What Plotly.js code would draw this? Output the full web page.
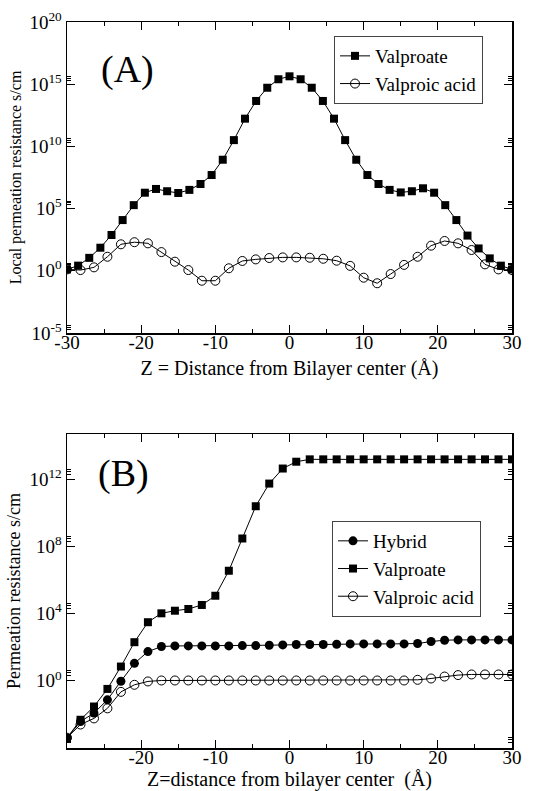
<!DOCTYPE html>
<html>
<head>
<meta charset="utf-8">
<script src="https://cdn.plot.ly/plotly-3.0.1.min.js"></script>
<style>html,body{margin:0;padding:0;background:#fff;}#chart{width:533px;height:791px;}</style>
</head>
<body>
<div id="chart"></div>
<script>
// Panel A: Valproate grid (1.5 Å step)
var zA_valproate = [-30,-28.5,-27,-25.5,-24,-22.5,-21,-19.5,-18,-16.5,-15,-13.5,-12,-10.5,-9,-7.5,-6,-4.5,-3,-1.5,0,1.5,3,4.5,6,7.5,9,10.5,12,13.5,15,16.5,18,19.5,21,22.5,24,25.5,27,28.5,30];
var rA_valproate = [1.3,2.6,11,72,760,1.2e4,1.9e5,1.9e6,3.8e6,2.5e6,1.8e6,3.2e6,9.5e6,5e7,8.5e8,3.2e10,1.7e12,4.5e13,5.2e14,2.5e15,4.3e15,2.5e15,5.2e14,4.5e13,1.7e12,3.2e10,8.5e8,5e7,9.5e6,3.2e6,2e6,2.5e6,4.3e6,1.9e6,1.9e5,1.2e4,680,63,10,2.6,1.3];

// Shared grid for the remaining series
var zGrid = [-30.0,-28.18,-26.36,-24.55,-22.73,-20.91,-19.09,-17.27,-15.45,-13.64,-11.82,-10.0,-8.18,-6.36,-4.55,-2.73,-0.91,0.91,2.73,4.55,6.36,8.18,10.0,11.82,13.64,15.45,17.27,19.09,20.91,22.73,24.55,26.36,28.18,30.0];
var rA_acid = [1.3,1.15,1.9,13.5,135,200,162,32,5.4,1.15,0.16,0.16,1.6,6.2,8.3,10.7,12,12,11.2,9.3,6.5,2.5,0.28,0.1,0.55,3,13.5,105,250,162,47,3.3,1.3,1.15];

// Panel B
var rB_hybrid = [4e-4,3.8e-3,1.2e-2,7.4e-2,0.95,11,55,110,120,120,120,120,120,126,126,132,138,145,145,145,151,158,158,158,158,158,166,219,263,275,275,275,275,275];
var rB_valproate = [3.9e-4,4.8e-3,2.95e-2,0.33,7.1,200,3100,1.05e4,1.5e4,1.9e4,3.3e4,1.17e5,3.6e6,3e8,2.5e10,5.6e11,4.4e12,1.12e13,1.55e13,1.55e13,1.55e13,1.55e13,1.55e13,1.55e13,1.55e13,1.55e13,1.55e13,1.55e13,1.55e13,1.55e13,1.55e13,1.55e13,1.55e13,1.55e13];
var rB_acid = [4.1e-4,2.5e-3,5.8e-3,2.3e-2,0.22,0.58,0.92,1.05,1.05,1.05,1.05,1.05,1.05,1.05,1.05,1.05,1.05,1.05,1.05,1.05,1.05,1.05,1.05,1.05,1.05,1.05,1.15,1.38,1.8,2.2,2.4,2.4,2.4,2.4];

var xTicks = [-30,-20,-10,0,10,20,30];
var xTickTextA = ['-30','-20','-10','0','10','20','30'];
var xTickTextB = ['','-20','-10','0','10','20','30'];
var yTicksA = [1e-5,1,1e5,1e10,1e15,1e20];
var yTickTextA = ['10<sup>-5</sup>','10<sup>0</sup>','10<sup>5</sup>','10<sup>10</sup>','10<sup>15</sup>','10<sup>20</sup>'];
var yTicksB = [1e-4,1,1e4,1e8,1e12];
var yTickTextB = ['','10<sup>0</sup>','10<sup>4</sup>','10<sup>8</sup>','10<sup>12</sup>'];

var FONT = '"Liberation Serif", "Times New Roman", Times, serif';
var lineStyle = {color:'#000', width:1};

function minorLog(majors, mults){
  var out=[];
  majors.forEach(function(m){ mults.forEach(function(k){ out.push(m*k); }); });
  return out;
}

var traces = [
  {x:zA_valproate, y:rA_valproate, xaxis:'x', yaxis:'y', name:'Valproate', legend:'legend',
   mode:'lines+markers', line:lineStyle, marker:{symbol:'square', size:8, color:'#000'}},
  {x:zGrid, y:rA_acid, xaxis:'x', yaxis:'y', name:'Valproic acid', legend:'legend',
   mode:'lines+markers', line:lineStyle, marker:{symbol:'circle-open', size:9, color:'#000', line:{width:1}}},
  {x:zGrid, y:rB_hybrid, xaxis:'x2', yaxis:'y2', name:'Hybrid', legend:'legend2',
   mode:'lines+markers', line:lineStyle, marker:{symbol:'circle', size:9, color:'#000'}},
  {x:zGrid, y:rB_valproate, xaxis:'x2', yaxis:'y2', name:'Valproate', legend:'legend2',
   mode:'lines+markers', line:lineStyle, marker:{symbol:'square', size:8, color:'#000'}},
  {x:zGrid, y:rB_acid, xaxis:'x2', yaxis:'y2', name:'Valproic acid', legend:'legend2',
   mode:'lines+markers', line:lineStyle, marker:{symbol:'circle-open', size:9, color:'#000', line:{width:1}}},
  // empty carriers so the label-only overlay axes are drawn
  {x:[], y:[], xaxis:'x3', yaxis:'y', mode:'markers', showlegend:false, hoverinfo:'skip'},
  {x:[], y:[], xaxis:'x4', yaxis:'y2', mode:'markers', showlegend:false, hoverinfo:'skip'}
];

// axis that draws frame + ticks (no labels)
function xFrame(anchor){
  return {
    anchor:anchor, domain:[0,1], range:[-30,30], showgrid:false, zeroline:false,
    tickmode:'array', tickvals:xTicks, showticklabels:false,
    ticks:'inside', ticklen:8, tickwidth:1, tickcolor:'#000',
    minor:{tickmode:'linear', tick0:-30, dtick:5, ticks:'inside', ticklen:4, tickwidth:1, tickcolor:'#000'},
    showline:true, linecolor:'#000', linewidth:1.5, mirror:'ticks'
  };
}
// overlay axis that draws the tick labels + title, placed slightly higher
function xLabels(over, pos, ticktext, title, tsize, standoff){
  return {
    overlaying:over, anchor:'free', position:pos, domain:[0,1], range:[-30,30], side:'bottom',
    showgrid:false, zeroline:false, showline:false, ticks:'',
    tickmode:'array', tickvals:xTicks, ticktext:ticktext,
    tickfont:{family:FONT, size:19, color:'#000'},
    title:{text:title, font:{family:FONT, size:tsize, color:'#000'}, standoff:standoff}
  };
}
function yAxis(anchor, domain, range, tv, tt, minorVals, title, tsize){
  return {
    anchor:anchor, domain:domain, type:'log', range:range, showgrid:false, zeroline:false,
    tickmode:'array', tickvals:tv, ticktext:tt,
    ticks:'inside', ticklen:8, tickwidth:1, tickcolor:'#000',
    minor:{tickmode:'array', tickvals:minorVals, ticks:'inside', ticklen:4, tickwidth:1, tickcolor:'#000'},
    showline:true, linecolor:'#000', linewidth:1.5, mirror:'ticks',
    tickfont:{family:FONT, size:19, color:'#000'},
    title:{text:title, font:{family:FONT, size:tsize, color:'#000'}, standoff:4}
  };
}

var layout = {
  width:533, height:791,
  margin:{l:67, r:21, t:22, b:43},
  paper_bgcolor:'#fff', plot_bgcolor:'#fff',
  font:{family:FONT, color:'#000'},
  showlegend:true,
  xaxis: xFrame('y'),
  xaxis3: xLabels('x', 0.5771, xTickTextA, 'Z = Distance from Bilayer center (Å)', 20, 8),
  yaxis: yAxis('x', [0.5716,1], [-5,20], yTicksA, yTickTextA, minorLog(yTicksA.slice(0,5),[2,3,4]), 'Local permeation resistance s/cm', 16),
  xaxis2: xFrame('y2'),
  xaxis4: xLabels('x2', 0.0055, xTickTextB, 'Z=distance from bilayer center \u00a0(Å)', 20, 3),
  yaxis2: yAxis('x2', [0,0.4325], [-4,14.7], yTicksB, yTickTextB, minorLog(yTicksB,[2,3,4]), 'Permeation resistance s/cm', 18),
  legend:{x:0.6, y:0.9807, xanchor:'left', yanchor:'top', bgcolor:'#fff', bordercolor:'#444', borderwidth:1,
          font:{family:FONT, size:19, color:'#000'}, tracegroupgap:0, itemwidth:30},
  legend2:{x:0.5955, y:0.3127, xanchor:'left', yanchor:'top', bgcolor:'#fff', bordercolor:'#444', borderwidth:1,
          font:{family:FONT, size:19, color:'#000'}, tracegroupgap:0, itemwidth:30},
  annotations:[
    {text:'(A)', xref:'paper', yref:'paper', x:0.135, y:0.935, showarrow:false, xanchor:'center', yanchor:'middle',
     font:{family:FONT, size:38, color:'#000'}},
    {text:'(B)', xref:'paper', yref:'paper', x:0.128, y:0.378, showarrow:false, xanchor:'center', yanchor:'middle',
     font:{family:FONT, size:38, color:'#000'}}
  ]
};

Plotly.newPlot('chart', traces, layout, {displayModeBar:false, staticPlot:true});
</script>
</body>
</html>
